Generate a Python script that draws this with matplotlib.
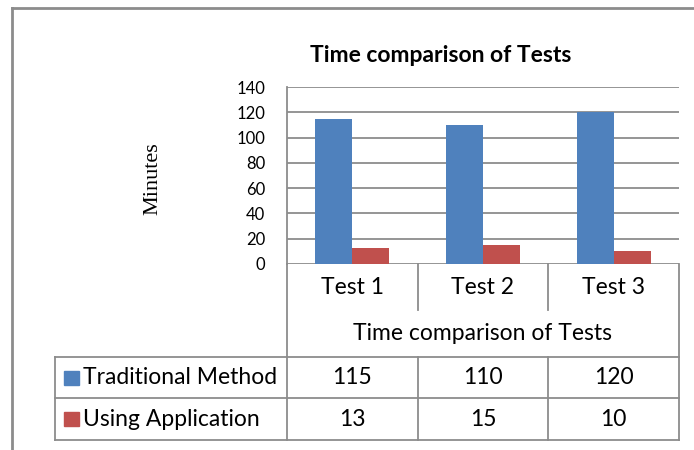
import matplotlib.pyplot as plt
from matplotlib.patches import Rectangle

plt.rcParams['font.family'] = ['Lato', 'DejaVu Sans']

# data
tests = ["Test 1", "Test 2", "Test 3"]
traditional = [115, 110, 120]
using_app = [13, 15, 10]
series_names = ["Traditional Method", "Using Application"]
series_colors = ["#4F81BD", "#C0504D"]
yticks = [0, 20, 40, 60, 80, 100, 120, 140]

W, H = 694, 450
grid_c = "#8c8c8c"
fs = 16.5

fig = plt.figure(figsize=(W / 100, H / 100), dpi=100)

# overlay in pixel coords for frame + table
ov = fig.add_axes([0, 0, 1, 1])
ov.set_xlim(0, W)
ov.set_ylim(H, 0)
ov.axis("off")

# chart axes (pixel box 287..679 x 87..264)
x0, x1, y0, y1 = 287, 679, 87, 264
ax = fig.add_axes([x0 / W, (H - y1) / H, (x1 - x0) / W, (y1 - y0) / H])
bw = 0.283
xs = range(len(tests))
ax.bar([i - bw / 2 for i in xs], traditional, width=bw, color=series_colors[0], zorder=3)
ax.bar([i + bw / 2 for i in xs], using_app, width=bw, color=series_colors[1], zorder=3)
ax.set_xlim(-0.5, len(tests) - 0.5)
ax.set_ylim(0, 140)
ax.set_yticks(yticks)
ax.set_yticklabels([str(v) for v in yticks], fontsize=12)
ax.tick_params(axis="y", length=0, pad=15.5)
ax.set_xticks([])
ax.grid(axis="y", color=grid_c, linewidth=1.3, zorder=0)
for s in ["top", "right", "bottom"]:
    ax.spines[s].set_visible(False)
ax.spines["left"].set_color(grid_c)
ax.spines["left"].set_linewidth(1.3)
ax.patch.set_alpha(0)

ov.text(441, 55, "Time comparison of Tests", ha="center", va="center",
        fontsize=fs, fontweight="bold")

# y label
ov.text(153, 179, "Minutes", rotation=90, ha="center", va="center",
        fontsize=16, family="Liberation Serif")

# outer frame
lw = 1.3
ov.plot([12, W], [8, 8], color=grid_c, lw=2)
ov.plot([12, 12], [8, H], color=grid_c, lw=2)

# table
cw = (x1 - x0) / len(tests)
cols = [x0 + i * cw for i in range(len(tests) + 1)]
r_cat, r_title, r1, r2, r3 = y1, 310, 357, 398, 440
for i, c in enumerate(cols):
    if i in (0, len(cols) - 1):
        ov.plot([c, c], [r_cat, r3], color=grid_c, lw=lw)
    else:
        ov.plot([c, c], [r_cat, r_title], color=grid_c, lw=lw)
        ov.plot([c, c], [r1, r3], color=grid_c, lw=lw)
for r in (r1, r2, r3):
    ov.plot([55, x1], [r, r], color=grid_c, lw=lw)
ov.plot([55, 55], [r1, r3], color=grid_c, lw=lw)

for i, t in enumerate(tests):
    ov.text(cols[i] + cw / 2, 288, t, ha="center", va="center", fontsize=fs)
ov.text((x0 + x1) / 2, 333, "Time comparison of Tests", ha="center", va="center", fontsize=fs)

rows = [traditional, using_app]
for k, (vals, name, col) in enumerate(zip(rows, series_names, series_colors)):
    top, bot = (r1, r2) if k == 0 else (r2, r3)
    cy = (top + bot) / 2
    ov.add_patch(Rectangle((64, cy - 7), 15, 14, color=col))
    ov.text(83, cy, name, ha="left", va="center", fontsize=fs)
    for i, v in enumerate(vals):
        ov.text(cols[i] + cw / 2, cy, str(v), ha="center", va="center", fontsize=fs)

fig.savefig("out.png", dpi=100)
